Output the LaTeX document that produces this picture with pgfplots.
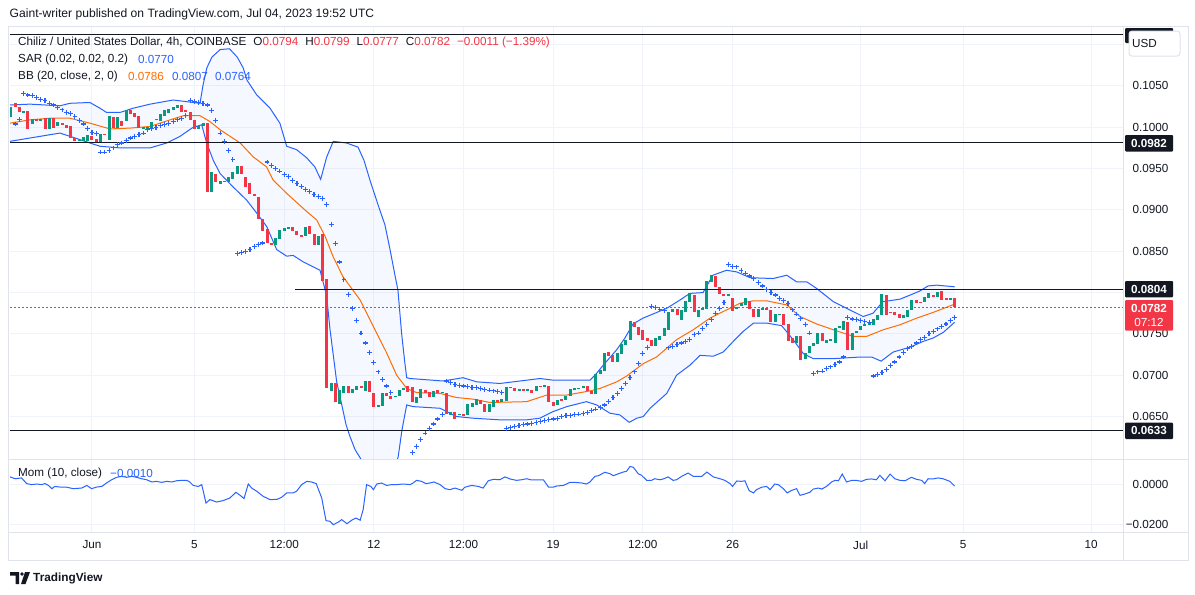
\documentclass[border=0pt]{standalone}
\usepackage{fontspec}
\setmainfont{Liberation Sans}
\usepackage{pgfplots}
\pgfplotsset{compat=1.18}
\usepackage{pgfplotstable}
\definecolor{upc}{HTML}{089981}
\definecolor{dnc}{HTML}{F23645}
\definecolor{bbc}{HTML}{2962FF}
\definecolor{midc}{HTML}{FF6D00}
\definecolor{gridc}{HTML}{F0F3FA}
\definecolor{txtc}{HTML}{131722}
\definecolor{framec}{HTML}{E0E3EB}
\newcommand\fs{\fontsize{11.7bp}{14bp}\selectfont}

\pgfplotstableread{
k o c
0 0.1013 0.1025
1 0.1029 0.1024
2 0.1025 0.1018
3 0.1017 0.1020
4 0.1020 0.0998
5 0.1004 0.1010
6 0.1010 0.1008
7 0.1008 0.1010
8 0.1011 0.0998
9 0.0998 0.1011
10 0.1011 0.0999
11 0.1001 0.1006
12 0.1005 0.1003
13 0.1003 0.0999
14 0.1001 0.0987
15 0.0987 0.0983
16 0.0983 0.0985
17 0.0983 0.0988
18 0.0983 0.0991
19 0.0989 0.0985
20 0.0986 0.0981
21 0.0982 0.0992
22 0.0992 0.0991
23 0.0985 0.1014
24 0.1012 0.0999
25 0.0999 0.1012
26 0.1008 0.1002
27 0.1008 0.1021
28 0.1021 0.1016
29 0.1017 0.1013
30 0.1014 0.0999
31 0.0998 0.1000
32 0.0999 0.1000
33 0.0999 0.1006
34 0.1010 0.1009
35 0.1007 0.1016
36 0.1014 0.1021
37 0.1017 0.1022
38 0.1021 0.1024
39 0.1023 0.1027
40 0.1027 0.1019
41 0.1021 0.1019
42 0.1019 0.1009
43 0.1009 0.0998
44 0.0998 0.1002
45 0.1001 0.1005
46 0.1005 0.0922
47 0.0922 0.0946
48 0.0943 0.0934
49 0.0931 0.0935
50 0.0934 0.0935
51 0.0934 0.0940
52 0.0938 0.0946
53 0.0944 0.0953
54 0.0953 0.0943
55 0.0940 0.0928
56 0.0932 0.0919
57 0.0919 0.0917
58 0.0916 0.0889
59 0.0889 0.0875
60 0.0877 0.0860
61 0.0860 0.0857
62 0.0858 0.0866
63 0.0865 0.0876
64 0.0874 0.0878
65 0.0877 0.0879
66 0.0879 0.0874
67 0.0874 0.0870
68 0.0870 0.0868
69 0.0868 0.0879
70 0.0881 0.0871
71 0.0871 0.0857
72 0.0858 0.0868
73 0.0871 0.0814
74 0.0816 0.0684
75 0.0681 0.0691
76 0.0691 0.0668
77 0.0665 0.0682
78 0.0679 0.0687
79 0.0687 0.0679
80 0.0678 0.0683
81 0.0682 0.0687
82 0.0687 0.0685
83 0.0681 0.0693
84 0.0693 0.0680
85 0.0678 0.0661
86 0.0662 0.0664
87 0.0663 0.0679
88 0.0679 0.0675
89 0.0675 0.0671
90 0.0674 0.0675
91 0.0675 0.0682
92 0.0682 0.0685
93 0.0687 0.0680
94 0.0686 0.0668
95 0.0666 0.0674
96 0.0672 0.0683
97 0.0682 0.0679
98 0.0680 0.0674
99 0.0674 0.0681
100 0.0682 0.0679
101 0.0679 0.0680
102 0.0679 0.0653
103 0.0652 0.0655
104 0.0655 0.0647
105 0.0652 0.0653
106 0.0653 0.0651
107 0.0652 0.0665
108 0.0662 0.0666
109 0.0664 0.0671
110 0.0670 0.0665
111 0.0665 0.0655
112 0.0655 0.0665
113 0.0662 0.0670
114 0.0670 0.0667
115 0.0667 0.0671
116 0.0669 0.0686
117 0.0685 0.0686
118 0.0685 0.0681
119 0.0682 0.0683
120 0.0683 0.0682
121 0.0682 0.0683
122 0.0682 0.0679
123 0.0681 0.0687
124 0.0687 0.0686
125 0.0687 0.0688
126 0.0687 0.0668
127 0.0668 0.0663
128 0.0664 0.0670
129 0.0671 0.0669
130 0.0670 0.0675
131 0.0675 0.0683
132 0.0683 0.0684
133 0.0683 0.0685
134 0.0684 0.0687
135 0.0687 0.0681
136 0.0681 0.0677
137 0.0677 0.0702
138 0.0702 0.0706
139 0.0705 0.0727
140 0.0728 0.0723
141 0.0725 0.0716
142 0.0716 0.0727
143 0.0726 0.0738
144 0.0737 0.0743
145 0.0743 0.0765
146 0.0764 0.0758
147 0.0758 0.0749
148 0.0755 0.0743
149 0.0745 0.0742
150 0.0743 0.0735
151 0.0735 0.0745
152 0.0743 0.0747
153 0.0747 0.0757
154 0.0755 0.0777
155 0.0777 0.0780
156 0.0780 0.0773
157 0.0767 0.0779
158 0.0776 0.0790
159 0.0789 0.0799
160 0.0797 0.0776
161 0.0770 0.0779
162 0.0779 0.0781
163 0.0780 0.0814
164 0.0813 0.0821
165 0.0820 0.0807
166 0.0807 0.0798
167 0.0798 0.0796
168 0.0797 0.0798
169 0.0793 0.0778
170 0.0780 0.0783
171 0.0784 0.0787
172 0.0785 0.0793
173 0.0790 0.0780
174 0.0780 0.0771
175 0.0771 0.0780
176 0.0780 0.0781
177 0.0781 0.0780
178 0.0779 0.0765
179 0.0765 0.0774
180 0.0773 0.0774
181 0.0774 0.0761
182 0.0762 0.0741
183 0.0745 0.0739
184 0.0739 0.0747
185 0.0747 0.0719
186 0.0720 0.0727
187 0.0727 0.0735
188 0.0735 0.0739
189 0.0738 0.0751
190 0.0751 0.0741
191 0.0739 0.0743
192 0.0741 0.0744
193 0.0739 0.0757
194 0.0757 0.0759
195 0.0755 0.0765
196 0.0765 0.0731
197 0.0731 0.0751
198 0.0751 0.0754
199 0.0755 0.0760
200 0.0760 0.0762
201 0.0761 0.0763
202 0.0761 0.0768
203 0.0767 0.0773
204 0.0773 0.0798
205 0.0797 0.0773
206 0.0777 0.0775
207 0.0776 0.0773
208 0.0774 0.0769
209 0.0769 0.0773
210 0.0771 0.0779
211 0.0779 0.0791
212 0.0791 0.0787
213 0.0789 0.0788
214 0.0788 0.0795
215 0.0794 0.0799
216 0.0797 0.0795
217 0.0795 0.0801
218 0.0802 0.0791
219 0.0793 0.0791
220 0.0791 0.0793
221 0.0794 0.0782
}\candles

\pgfplotstableread{
k v
1 0.1004
2 0.1009
3 0.1041
4 0.1039
5 0.1038
6 0.1036
7 0.1034
8 0.1032
9 0.1029
10 0.1027
11 0.1024
12 0.1021
13 0.1018
14 0.1017
15 0.1013
16 0.1008
17 0.1004
18 0.0999
19 0.0994
20 0.0992
21 0.0970
22 0.0970
23 0.0972
24 0.0975
25 0.0979
26 0.0981
27 0.0984
28 0.0987
29 0.0989
30 0.0991
31 0.0993
32 0.0997
33 0.0998
34 0.1000
35 0.1002
36 0.1003
37 0.1005
38 0.1007
39 0.1009
40 0.1011
41 0.1014
42 0.1032
43 0.1031
44 0.1030
45 0.1029
46 0.1027
47 0.1020
48 0.1008
49 0.0993
50 0.0983
51 0.0972
52 0.0961
53 0.0847
54 0.0848
55 0.0850
56 0.0852
57 0.0856
58 0.0858
59 0.0860
60 0.0958
61 0.0954
62 0.0950
63 0.0947
64 0.0943
65 0.0940
66 0.0936
67 0.0932
68 0.0928
69 0.0925
70 0.0922
71 0.0919
72 0.0916
73 0.0914
74 0.0907
75 0.0882
76 0.0859
77 0.0837
78 0.0816
79 0.0798
80 0.0781
81 0.0766
82 0.0751
83 0.0739
84 0.0727
85 0.0715
86 0.0704
87 0.0695
88 0.0687
89 0.0679
94 0.0606
95 0.0614
96 0.0622
97 0.0630
98 0.0636
99 0.0641
100 0.0647
101 0.0652
102 0.0693
103 0.0691
104 0.0689
105 0.0688
106 0.0687
107 0.0686
108 0.0685
109 0.0685
110 0.0684
111 0.0683
112 0.0682
113 0.0681
114 0.0680
115 0.0679
116 0.0636
117 0.0637
118 0.0638
119 0.0639
120 0.0640
121 0.0641
122 0.0642
123 0.0643
124 0.0644
125 0.0645
126 0.0646
127 0.0647
128 0.0648
129 0.0650
130 0.0651
131 0.0651
132 0.0652
133 0.0653
134 0.0654
135 0.0655
136 0.0657
137 0.0659
138 0.0661
139 0.0664
140 0.0668
141 0.0673
142 0.0678
143 0.0684
144 0.0690
145 0.0697
146 0.0704
147 0.0714
148 0.0726
149 0.0734
150 0.0783
151 0.0782
152 0.0780
153 0.0778
154 0.0733
155 0.0735
156 0.0737
157 0.0739
158 0.0741
159 0.0743
160 0.0749
161 0.0751
162 0.0757
163 0.0761
164 0.0767
165 0.0775
166 0.0781
167 0.0788
168 0.0834
169 0.0832
170 0.0831
171 0.0827
172 0.0823
173 0.0820
174 0.0817
175 0.0812
176 0.0808
177 0.0804
178 0.0800
179 0.0797
180 0.0793
181 0.0790
182 0.0787
183 0.0779
184 0.0774
185 0.0769
186 0.0761
187 0.0751
188 0.0702
189 0.0704
190 0.0705
191 0.0708
192 0.0710
193 0.0713
194 0.0716
195 0.0722
196 0.0770
197 0.0768
198 0.0767
199 0.0766
200 0.0765
201 0.0764
202 0.0699
203 0.0701
204 0.0703
205 0.0707
206 0.0712
207 0.0716
208 0.0722
209 0.0727
210 0.0732
211 0.0735
212 0.0739
213 0.0743
214 0.0746
215 0.0750
216 0.0753
217 0.0756
218 0.0759
219 0.0762
220 0.0766
221 0.0770
}\sar

\pgfplotstableread{
k v
-0.2 0.1027
4.5 0.1028
11.5 0.1026
13.8 0.1029
18.5 0.1030
20.9 0.1023
22.4 0.1018
25.6 0.1018
28.6 0.1023
32.6 0.1028
38.0 0.1033
41.2 0.1031
44.3 0.1029
45.0 0.1051
45.9 0.1072
47.1 0.1085
49.0 0.1094
51.2 0.1095
53.0 0.1085
54.4 0.1072
55.3 0.1057
57.6 0.1039
58.8 0.1033
60.7 0.1023
63.0 0.1005
64.6 0.0977
66.9 0.0973
69.3 0.0963
71.2 0.0952
72.55 0.0937
73.96 0.0964
75.5 0.0983
78.6 0.0981
81.3 0.0976
82.7 0.0960
84.1 0.0936
86.0 0.0906
87.6 0.0882
88.8 0.0852
89.95 0.0821
90.65 0.0803
91.5 0.0751
92.2 0.0718
92.7 0.0697
93.5 0.0696
101.2 0.0693
105.9 0.0697
109.1 0.0692
114.5 0.0690
120.8 0.0694
123.9 0.0696
127.0 0.0694
135.6 0.0694
136.8 0.0700
138.7 0.0712
141.9 0.0731
143.8 0.0745
145.7 0.0762
148.0 0.0769
153.6 0.0781
156.7 0.0791
159.0 0.0799
162.1 0.0800
164.4 0.0821
167.6 0.0827
170.0 0.0825
173.1 0.0818
178.5 0.0817
181.7 0.0821
184.0 0.0813
186.4 0.0813
188.7 0.0805
192.6 0.0789
196.5 0.0779
199.6 0.0771
201.9 0.0775
204.2 0.0789
208.2 0.0792
210.6 0.0797
212.9 0.0802
214.8 0.0808
216.8 0.0809
221.0 0.0807
}\bbu

\pgfplotstableread{
k v
-0.2 0.0983
4.5 0.0987
11.5 0.0993
16.2 0.0985
18.5 0.0981
20.9 0.0977
25.6 0.0975
32.6 0.0975
36.5 0.0981
39.6 0.0989
42.7 0.1000
44.7 0.1003
45.85 0.0981
47.4 0.0960
49.0 0.0944
52.0 0.0928
55.2 0.0912
57.6 0.0896
59.9 0.0880
62.25 0.0852
64.6 0.0844
66.1 0.0845
68.5 0.0837
71.6 0.0829
72.4 0.0827
73.96 0.0796
74.7 0.0757
76.3 0.0692
77.5 0.0664
78.5 0.0640
79.4 0.0626
80.6 0.0610
81.8 0.0600
82.9 0.0588
85.0 0.0585
87.5 0.0585
89.5 0.0588
90.4 0.0597
90.7 0.0601
91.6 0.0634
92.7 0.0664
94.2 0.0662
100.5 0.0660
104.4 0.0650
108.2 0.0648
114.5 0.0646
120.8 0.0646
123.9 0.0648
127.0 0.0656
130.2 0.0662
134.8 0.0668
137.2 0.0664
140.3 0.0654
142.6 0.0652
144.8 0.0643
146.6 0.0648
148.1 0.0650
149.7 0.0660
153.6 0.0678
155.9 0.0700
159.0 0.0712
161.4 0.0724
164.5 0.0723
166.8 0.0728
169.2 0.0741
171.5 0.0753
173.9 0.0763
177.0 0.0763
180.5 0.0760
183.2 0.0743
185.6 0.0726
187.9 0.0720
192.6 0.0720
198.9 0.0722
201.6 0.0722
203.8 0.0717
206.6 0.0728
210.6 0.0734
213.7 0.0741
216.0 0.0745
218.4 0.0752
221.0 0.0764
}\bbl

% band outline for the shaded area: upper band forward, lower band backward
\pgfplotstableread{
k v
-0.2 0.1027
4.5 0.1028
11.5 0.1026
13.8 0.1029
18.5 0.1030
20.9 0.1023
22.4 0.1018
25.6 0.1018
28.6 0.1023
32.6 0.1028
38.0 0.1033
41.2 0.1031
44.3 0.1029
45.0 0.1051
45.9 0.1072
47.1 0.1085
49.0 0.1094
51.2 0.1095
53.0 0.1085
54.4 0.1072
55.3 0.1057
57.6 0.1039
58.8 0.1033
60.7 0.1023
63.0 0.1005
64.6 0.0977
66.9 0.0973
69.3 0.0963
71.2 0.0952
72.55 0.0937
73.96 0.0964
75.5 0.0983
78.6 0.0981
81.3 0.0976
82.7 0.0960
84.1 0.0936
86.0 0.0906
87.6 0.0882
88.8 0.0852
89.95 0.0821
90.65 0.0803
91.5 0.0751
92.2 0.0718
92.7 0.0697
93.5 0.0696
101.2 0.0693
105.9 0.0697
109.1 0.0692
114.5 0.0690
120.8 0.0694
123.9 0.0696
127.0 0.0694
135.6 0.0694
136.8 0.0700
138.7 0.0712
141.9 0.0731
143.8 0.0745
145.7 0.0762
148.0 0.0769
153.6 0.0781
156.7 0.0791
159.0 0.0799
162.1 0.0800
164.4 0.0821
167.6 0.0827
170.0 0.0825
173.1 0.0818
178.5 0.0817
181.7 0.0821
184.0 0.0813
186.4 0.0813
188.7 0.0805
192.6 0.0789
196.5 0.0779
199.6 0.0771
201.9 0.0775
204.2 0.0789
208.2 0.0792
210.6 0.0797
212.9 0.0802
214.8 0.0808
216.8 0.0809
221.0 0.0807
221.0 0.0764
218.4 0.0752
216.0 0.0745
213.7 0.0741
210.6 0.0734
206.6 0.0728
203.8 0.0717
201.6 0.0722
198.9 0.0722
192.6 0.0720
187.9 0.0720
185.6 0.0726
183.2 0.0743
180.5 0.0760
177.0 0.0763
173.9 0.0763
171.5 0.0753
169.2 0.0741
166.8 0.0728
164.5 0.0723
161.4 0.0724
159.0 0.0712
155.9 0.0700
153.6 0.0678
149.7 0.0660
148.1 0.0650
146.6 0.0648
144.8 0.0643
142.6 0.0652
140.3 0.0654
137.2 0.0664
134.8 0.0668
130.2 0.0662
127.0 0.0656
123.9 0.0648
120.8 0.0646
114.5 0.0646
108.2 0.0648
104.4 0.0650
100.5 0.0660
94.2 0.0662
92.7 0.0664
91.6 0.0634
90.7 0.0601
90.4 0.0597
89.5 0.0588
87.5 0.0585
85.0 0.0585
82.9 0.0588
81.8 0.0600
80.6 0.0610
79.4 0.0626
78.5 0.0640
77.5 0.0664
76.3 0.0692
74.7 0.0757
73.96 0.0796
72.4 0.0827
71.6 0.0829
68.5 0.0837
66.1 0.0845
64.6 0.0844
62.25 0.0852
59.9 0.0880
57.6 0.0896
55.2 0.0912
52.0 0.0928
49.0 0.0944
47.4 0.0960
45.85 0.0981
44.7 0.1003
42.7 0.1000
39.6 0.0989
36.5 0.0981
32.6 0.0975
25.6 0.0975
20.9 0.0977
18.5 0.0981
16.2 0.0985
11.5 0.0993
4.5 0.0987
-0.2 0.0983
}\bbarea

\pgfplotstableread{
k v
-0.2 0.1005
4.5 0.1009
9.2 0.1011
13.8 0.1011
18.5 0.1005
23.2 0.0998
27.9 0.0999
32.6 0.1001
37.3 0.1009
40.4 0.1014
44.3 0.1014
46.6 0.1007
49.0 0.0997
53.7 0.0981
56.8 0.0964
59.9 0.0952
61.45 0.0936
64.6 0.0920
69.3 0.0898
71.6 0.0888
73.6 0.0868
75.5 0.0843
77.8 0.0819
81.8 0.0791
84.9 0.0759
88.0 0.0727
90.35 0.0700
92.7 0.0684
95.0 0.0679
100.5 0.0678
104.4 0.0673
108.3 0.0671
112.2 0.0667
120.8 0.0668
125.5 0.0676
130.2 0.0676
135.6 0.0681
137.96 0.0684
141.9 0.0692
144.2 0.0699
148.1 0.0714
151.2 0.0722
155.9 0.0743
159.8 0.0755
163.7 0.0769
167.6 0.0779
170.7 0.0787
173.9 0.0790
177.0 0.0790
181.7 0.0785
184.8 0.0771
188.7 0.0762
192.6 0.0755
197.3 0.0747
200.4 0.0747
204.3 0.0755
208.2 0.0761
212.1 0.0769
216.0 0.0776
221.0 0.0786
}\bbm

\pgfplotstableread{
k v
-0.2 0.0035
1.0 0.0026
2.5 0.0030
3.7 0.0002
4.9 -0.0003
6.0 0.0000
7.2 -0.0003
8.0 0.0002
8.8 -0.0007
9.6 -0.0023
10.3 -0.0012
11.5 -0.0015
13.1 -0.0016
14.6 -0.0023
16.6 -0.0020
17.8 -0.0007
18.9 -0.0023
20.1 -0.0015
21.3 -0.0012
22.4 0.0005
23.6 0.0021
24.8 0.0033
25.9 0.0038
27.1 0.0033
28.3 0.0038
29.5 0.0033
30.6 0.0026
31.8 0.0021
33.0 0.0010
34.1 0.0013
35.3 0.0008
36.5 0.0013
37.7 0.0010
38.8 0.0016
40.0 0.0018
41.2 0.0018
41.9 0.0010
42.7 -0.0007
43.9 -0.0012
44.7 -0.0003
45.7 -0.0094
46.6 -0.0077
48.2 -0.0089
49.7 -0.0082
51.3 -0.0069
52.7 -0.0041
53.7 -0.0056
54.6 -0.0072
55.6 0.0000
56.4 -0.0020
57.6 -0.0036
59.1 -0.0061
60.7 -0.0077
62.3 -0.0076
63.4 -0.0066
64.6 -0.0044
66.1 -0.0044
66.9 -0.0036
68.1 -0.0003
69.3 0.0013
70.4 0.0010
71.5 0.0002
72.8 -0.0069
73.8 -0.0181
74.7 -0.0184
75.5 -0.0201
76.7 -0.0188
77.5 -0.0176
78.7 -0.0196
79.8 -0.0179
80.8 -0.0168
81.8 -0.0179
82.5 -0.0127
83.3 -0.0003
84.3 -0.0012
84.9 -0.0028
85.7 0.0000
86.8 0.0005
88.0 -0.0007
89.2 -0.0003
90.4 -0.0003
91.9 0.0000
93.5 -0.0003
94.2 0.0005
95.0 0.0018
96.2 0.0013
97.2 0.0002
98.1 0.0005
99.1 0.0010
100.5 -0.0003
101.7 -0.0023
102.8 -0.0028
104.0 -0.0020
105.6 -0.0031
106.3 -0.0016
107.9 -0.0007
109.5 -0.0012
110.6 -0.0020
111.8 0.0016
113.0 0.0023
114.5 0.0021
115.7 0.0035
116.9 0.0025
118.4 0.0018
119.6 0.0021
120.8 0.0026
121.9 0.0020
123.1 0.0021
124.7 0.0021
125.9 -0.0015
127.0 -0.0016
127.8 -0.0010
129.4 -0.0007
130.9 0.0008
132.1 0.0008
133.7 0.0005
134.8 0.0000
135.6 0.0010
136.8 0.0038
137.6 0.0041
139.1 0.0058
140.3 0.0051
141.1 0.0041
142.3 0.0051
143.4 0.0059
144.2 0.0063
145.0 0.0087
145.8 0.0082
146.9 0.0051
147.7 0.0043
148.9 0.0018
150.0 0.0018
150.8 0.0026
152.0 0.0021
152.8 0.0025
153.9 0.0035
155.1 0.0018
155.9 0.0021
157.1 0.0038
158.6 0.0054
159.8 0.0038
161.8 0.0038
163.0 0.0059
164.5 0.0035
166.1 0.0026
167.2 0.0018
168.4 0.0002
169.0 -0.0012
170.0 0.0015
171.1 0.0013
171.9 0.0016
172.9 -0.0033
173.9 -0.0044
174.6 -0.0028
175.8 -0.0016
177.0 -0.0012
177.8 -0.0028
178.9 0.0000
179.7 -0.0003
180.9 -0.0023
181.8 -0.0044
182.9 -0.0031
184.0 -0.0023
184.8 -0.0056
186.0 -0.0049
187.1 -0.0041
187.9 -0.0025
189.1 -0.0020
189.9 -0.0025
191.0 -0.0012
192.2 0.0010
193.0 0.0018
193.8 0.0016
194.7 0.0049
195.7 0.0010
196.9 0.0018
198.0 0.0018
199.2 0.0013
200.4 0.0023
201.6 0.0025
202.7 0.0021
203.5 0.0043
204.7 0.0016
205.9 0.0049
207.0 0.0026
208.2 0.0018
209.4 0.0016
210.9 0.0033
212.1 0.0023
213.3 0.0018
214.0 0.0002
214.8 0.0026
216.0 0.0025
217.1 0.0030
218.3 0.0026
219.9 0.0013
221.0 -0.0010
}\mom

\begin{document}
\begin{tikzpicture}
\fill[white] (0,0) rectangle (1195bp,-595bp);

% main price pane
\begin{axis}[
  at={(10bp,-459bp)}, anchor=south west, scale only axis,
  width=1113bp, height=432bp,
  xmin=-0.2, xmax=260.44, ymin=0.059861, ymax=0.112133,
  axis line style={draw=none}, tick style={draw=none},
  major tick length=0pt,
  scaled x ticks=false, scaled y ticks=false,
  xtick={19,43,64,85,106,127,148,169,199,223,253},
  xticklabels={,,,,,,,,,,},
  ytick={0.065,0.07,0.075,0.08,0.085,0.09,0.095,0.1,0.105,0.11},
  yticklabels={0.0650,0.0700,0.0750,,0.0850,0.0900,0.0950,0.1000,0.1050,},
  yticklabel pos=right,
  yticklabel style={anchor=east, xshift=49bp, font=\fs, text=txtc},
  grid=major, major grid style={draw=gridc, line width=1bp},
]
\addplot[fill=bbc, fill opacity=0.045, draw=none] table[x=k,y=v] {\bbarea};
\addplot[bbc, line width=1bp] table[x=k,y=v] {\bbu};
\addplot[bbc, line width=1bp] table[x=k,y=v] {\bbl};
\addplot[midc, line width=1bp] table[x=k,y=v] {\bbm};
% candles
\addplot[draw=none, mark=none,
  error bars/y dir=both, error bars/y explicit, error bars/error mark=none,
  error bars/error bar style={line width=3bp, draw=upc}]
  table[x=k, y expr={\thisrow{c}>=\thisrow{o} ? (\thisrow{o}+\thisrow{c})/2 : nan},
        y error expr={max(abs(\thisrow{c}-\thisrow{o})/2,0.00006)}] {\candles};
\addplot[draw=none, mark=none,
  error bars/y dir=both, error bars/y explicit, error bars/error mark=none,
  error bars/error bar style={line width=3bp, draw=dnc}]
  table[x=k, y expr={\thisrow{c}<\thisrow{o} ? (\thisrow{o}+\thisrow{c})/2 : nan},
        y error expr={max(abs(\thisrow{c}-\thisrow{o})/2,0.00006)}] {\candles};
% SAR
\addplot[only marks, mark=+, mark size=2.4bp, bbc, mark options={line width=1.1bp}] table[x=k,y=v] {\sar};
% horizontal lines
\addplot[txtc, line width=1bp] coordinates {(-0.2,0.1112) (260.44,0.1112)};
\addplot[txtc, line width=1bp] coordinates {(-0.2,0.0982) (260.44,0.0982)};
\addplot[txtc, line width=1bp] coordinates {(66.6,0.0804) (260.44,0.0804)};
\addplot[txtc, line width=1bp] coordinates {(-0.2,0.0633) (260.44,0.0633)};
\addplot[dnc, line width=1.3bp, dash pattern=on 2bp off 2bp] coordinates {(-0.2,0.0782) (260.44,0.0782)};
\end{axis}

% momentum pane
\begin{axis}[
  at={(10bp,-532bp)}, anchor=south west, scale only axis,
  width=1113bp, height=72bp,
  xmin=-0.2, xmax=260.44, ymin=-0.023704, ymax=0.011852,
  axis line style={draw=none}, tick style={draw=none},
  major tick length=0pt,
  scaled x ticks=false, scaled y ticks=false,
  xtick={19,43,64,85,106,127,148,169,199,223,253},
  xticklabels={Jun,5,12:00,12,12:00,19,12:00,26,Jul,5,10},
  xticklabel style={font=\fs, text=txtc, yshift=-5bp},
  ytick={-0.02,0},
  yticklabels={−0.0200,0.0000},
  yticklabel pos=right,
  yticklabel style={anchor=east, xshift=49bp, font=\fs, text=txtc},
  grid=major, major grid style={draw=gridc, line width=1bp},
]
\addplot[bbc, line width=1bp] table[x=k,y=v] {\mom};
\end{axis}

% frame
\draw[framec, line width=1bp] (8.5bp,-26.5bp) rectangle (1188.5bp,-560.5bp);
\draw[framec, line width=1bp] (8.5bp,-459.5bp) -- (1188.5bp,-459.5bp);
\draw[framec, line width=1bp] (8.5bp,-532.5bp) -- (1188.5bp,-532.5bp);
\draw[framec, line width=1bp] (1123.5bp,-26.5bp) -- (1123.5bp,-560.5bp);

% title
\node[anchor=west, font=\fontsize{12.1bp}{14bp}\selectfont, text=txtc, inner sep=0] at (9.5bp,-14bp) {Gaint-writer published on TradingView.com, Jul 04, 2023 19:52 UTC};

% legends
\node[anchor=west, font=\fs, text=txtc, inner sep=0] at (18bp,-42.3bp)
 {Chiliz / United States Dollar, 4h, COINBASE\hspace{7bp}O\textcolor{dnc}{0.0794}\hspace{7bp}H\textcolor{dnc}{0.0799}\hspace{7bp}L\textcolor{dnc}{0.0777}\hspace{7bp}C\textcolor{dnc}{0.0782}\hspace{7bp}\textcolor{dnc}{−0.0011 (−1.39\%)}};
\node[anchor=west, font=\fs, text=txtc, inner sep=0] at (18bp,-59.3bp) {SAR (0.02, 0.02, 0.2)};
\node[anchor=west, font=\fs, text=bbc, inner sep=0] at (138bp,-59.3bp) {0.0770};
\node[anchor=west, font=\fs, text=txtc, inner sep=0] at (18bp,-76bp) {BB (20, close, 2, 0)};
\node[anchor=west, font=\fs, text=midc, inner sep=0] at (128bp,-76bp) {0.0786};
\node[anchor=west, font=\fs, text=bbc, inner sep=0] at (172bp,-76bp) {0.0807};
\node[anchor=west, font=\fs, text=bbc, inner sep=0] at (215bp,-76bp) {0.0764};
\node[anchor=west, font=\fs, text=txtc, inner sep=0] at (18bp,-473.7bp) {Mom (10, close)};
\node[anchor=west, font=\fs, text=bbc, inner sep=0] at (110bp,-473.7bp) {−0.0010};

% price labels
\fill[txtc, rounded corners=1bp] (1125bp,-28bp) rectangle (1173bp,-43bp);
\fill[white, draw=framec, line width=1bp, rounded corners=3bp] (1129bp,-31bp) rectangle (1180bp,-56bp);
\node[anchor=west, font=\fs, text=txtc, inner sep=0] at (1132bp,-43.5bp) {USD};
\fill[txtc, rounded corners=1bp] (1125bp,-135bp) rectangle (1173bp,-151.5bp);
\node[font=\fs\bfseries, text=white, inner sep=0] at (1149bp,-143.3bp) {0.0982};
\fill[txtc, rounded corners=1bp] (1125bp,-281bp) rectangle (1173bp,-297.3bp);
\node[font=\fs\bfseries, text=white, inner sep=0] at (1149bp,-289.2bp) {0.0804};
\fill[txtc, rounded corners=1bp] (1125bp,-422.7bp) rectangle (1173bp,-439bp);
\node[font=\fs\bfseries, text=white, inner sep=0] at (1149bp,-430.9bp) {0.0633};
\fill[dnc, rounded corners=1bp] (1125bp,-300bp) rectangle (1173bp,-330.7bp);
\node[font=\fs\bfseries, text=white, inner sep=0] at (1149bp,-308.3bp) {0.0782};
\node[font=\fs, text=white, inner sep=0] at (1149bp,-322.5bp) {07:12};

% TradingView logo
\fill[txtc] (10bp,-572bp) -- (19bp,-572bp) -- (19bp,-584bp) -- (15.5bp,-584bp) -- (15.5bp,-575.5bp) -- (10bp,-575.5bp) -- cycle;
\fill[txtc] (22bp,-574bp) circle (1.8bp);
\fill[txtc] (25bp,-572bp) -- (30bp,-572bp) -- (25.5bp,-584bp) -- (21bp,-584bp) -- cycle;
\node[anchor=west, font=\fontsize{11.8bp}{14bp}\selectfont\bfseries, text=txtc, inner sep=0] at (33bp,-578bp) {TradingView};
\end{tikzpicture}
\end{document}
